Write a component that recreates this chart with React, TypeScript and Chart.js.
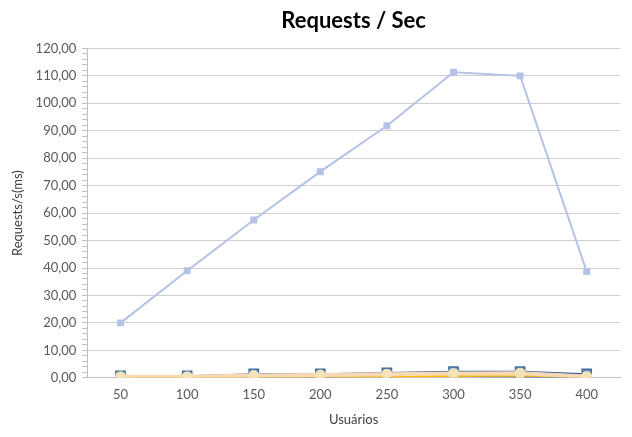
import React, { useEffect, useRef } from "react";
import { Chart, registerables } from "chart.js";

Chart.register(...registerables);

const categories = ["50", "100", "150", "200", "250", "300", "350", "400"];
const mainSeries = [20.0, 39.0, 57.5, 75.1, 91.8, 111.3, 110.0, 38.7];
const darkBlueSeries = [0.7, 0.7, 1.4, 1.4, 1.8, 2.3, 2.3, 1.4];
const blueSeries = [0.2, 0.3, 0.4, 0.5, 0.7, 0.7, 0.5, 0.3];
const orangeSeries = [0.4, 0.5, 0.8, 1.0, 1.2, 1.5, 1.6, 0.6];
const graySeries = [0.3, 0.4, 0.6, 0.8, 0.9, 1.0, 1.0, 0.5];
const yellowSeries = [0.2, 0.2, 0.4, 0.5, 0.6, 0.7, 0.8, 0.3];
const peachSeries = [0.4, 0.4, 0.8, 1.0, 1.3, 1.6, 1.7, 0.5];

const FONT = "Lato, 'Open Sans', sans-serif";

export default function App() {
  const ref = useRef<HTMLCanvasElement | null>(null);
  useEffect(() => {
    if (!ref.current) return;
    const chart = new Chart(ref.current, {
      type: "line",
      data: {
        labels: categories,
        datasets: [
          {
            label: "Requests/s",
            data: mainSeries,
            borderColor: "#B4C2E6",
            backgroundColor: "#B4C2E6",
            pointStyle: "rect",
            pointRadius: 3.5,
            borderWidth: 2,
          },
          {
            label: "S6",
            data: peachSeries,
            borderColor: "#F8D9B4",
            backgroundColor: "#FBE3C2",
            pointBorderColor: "#F2E2B8",
            pointStyle: "circle",
            pointRadius: 3.5,
            borderWidth: 4,
          },
          {
            label: "S5",
            data: yellowSeries,
            borderColor: "#FFC000",
            backgroundColor: "#FFC000",
            pointStyle: "circle",
            pointRadius: 3,
            borderWidth: 2,
          },
          {
            label: "S4",
            data: graySeries,
            borderColor: "#A5A5A5",
            backgroundColor: "#A5A5A5",
            pointStyle: "rect",
            pointRadius: 3,
            borderWidth: 2,
          },
          {
            label: "S3",
            data: orangeSeries,
            borderColor: "#ED7D31",
            backgroundColor: "#ED7D31",
            pointStyle: "rect",
            pointRadius: 3,
            borderWidth: 2,
          },
          {
            label: "S2",
            data: blueSeries,
            borderColor: "#4472C4",
            backgroundColor: "#4472C4",
            pointStyle: "rect",
            pointRadius: 3,
            borderWidth: 2,
          },
          {
            label: "S1",
            data: darkBlueSeries,
            borderColor: "#2F5597",
            backgroundColor: "#6F8FC4",
            pointBorderColor: "#41719C",
            pointStyle: "rect",
            pointRadius: 6.5,
            borderWidth: 1.5,
          },
        ],
      },
      options: {
        animation: false,
        responsive: false,
        maintainAspectRatio: false,
        layout: { padding: { left: 10, right: 12, top: 6, bottom: 9 } },
        plugins: {
          legend: { display: false },
          tooltip: { enabled: false },
          title: {
            display: true,
            fullSize: false,
            text: "Requests / Sec",
            color: "#000000",
            font: { family: FONT, size: 22, weight: "bold" },
            padding: { top: 2, bottom: 14 },
          },
        },
        scales: {
          x: {
            offset: true,
            grid: { display: false, drawTicks: false },
            border: { color: "#bfbfbf", width: 1 },
            ticks: {
              color: "#595959",
              font: { family: FONT, size: 13 },
              padding: 9,
            },
            title: {
              display: true,
              text: "Usuários",
              color: "#404040",
              font: { family: FONT, size: 13 },
              padding: { top: 1, bottom: 0 },
            },
          },
          y: {
            min: 0,
            max: 120,
            ticks: {
              stepSize: 2,
              autoSkip: false,
              color: "#595959",
              font: { family: FONT, size: 13 },
              padding: 6,
              callback: (v: any) =>
                Number(v) % 10 === 0 ? Number(v).toFixed(2).replace(".", ",") : "",
            },
            grid: {
              color: (ctx: any) =>
                ctx.tick && ctx.tick.value % 10 === 0 ? "#d0d0d0" : "rgba(0,0,0,0)",
              tickColor: "#bfbfbf",
              tickLength: 5,
            },
            border: { color: "#bfbfbf", width: 1 },
            title: {
              display: true,
              text: "Requests/s(ms)",
              color: "#404040",
              font: { family: FONT, size: 13 },
              padding: { top: 0, bottom: 4 },
            },
          },
        },
      },
    });
    return () => chart.destroy();
  }, []);
  return (
    <div style={{ position: "absolute", left: 0, top: 0, width: 632, height: 437, background: "#fff" }}>
      <canvas ref={ref} width={632} height={437} />
    </div>
  );
}
